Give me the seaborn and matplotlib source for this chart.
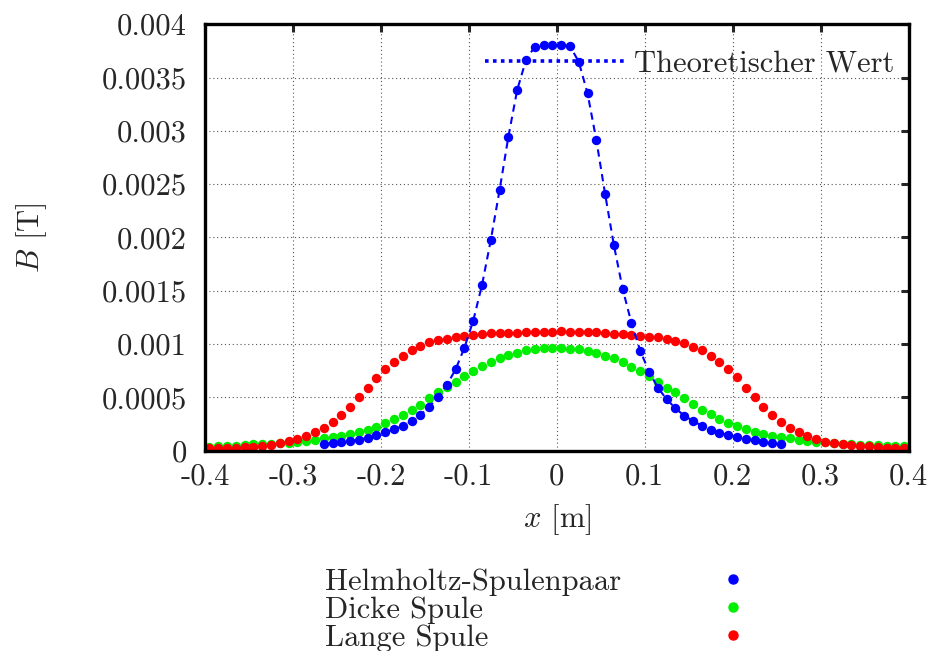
import matplotlib
matplotlib.use("Agg")
import matplotlib.pyplot as plt
from matplotlib.lines import Line2D
import pandas as pd
import seaborn as sns

# Messpositionen (m)
x_full = [-0.395, -0.385, -0.375, -0.365, -0.355, -0.345, -0.335, -0.325, -0.315, -0.305,
          -0.295, -0.285, -0.275, -0.265, -0.255, -0.245, -0.235, -0.225, -0.215, -0.205,
          -0.195, -0.185, -0.175, -0.165, -0.155, -0.145, -0.135, -0.125, -0.115, -0.105,
          -0.095, -0.085, -0.075, -0.065, -0.055, -0.045, -0.035, -0.025, -0.015, -0.005,
          0.005, 0.015, 0.025, 0.035, 0.045, 0.055, 0.065, 0.075, 0.085, 0.095,
          0.105, 0.115, 0.125, 0.135, 0.145, 0.155, 0.165, 0.175, 0.185, 0.195,
          0.205, 0.215, 0.225, 0.235, 0.245, 0.255, 0.265, 0.275, 0.285, 0.295,
          0.305, 0.315, 0.325, 0.335, 0.345, 0.355, 0.365, 0.375, 0.385, 0.395]

x_helm = [-0.265, -0.255, -0.245, -0.235, -0.225, -0.215, -0.205, -0.195, -0.185, -0.175,
          -0.165, -0.155, -0.145, -0.135, -0.125, -0.115, -0.105, -0.095, -0.085, -0.075,
          -0.065, -0.055, -0.045, -0.035, -0.025, -0.015, -0.005,
          0.005, 0.015, 0.025, 0.035, 0.045, 0.055, 0.065, 0.075, 0.085, 0.095,
          0.105, 0.115, 0.125, 0.135, 0.145, 0.155, 0.165, 0.175, 0.185, 0.195,
          0.205, 0.215, 0.225, 0.235, 0.245, 0.255]

# Magnetfeld (T)
b_helm = [0.00006, 0.000072, 0.000084, 0.000091, 0.000103, 0.000122, 0.000147, 0.000173, 0.000201, 0.000232,
          0.000279, 0.000335, 0.000413, 0.000506, 0.000616, 0.000763, 0.000966, 0.001219, 0.001554, 0.001976,
          0.002445, 0.002945, 0.003383, 0.003664, 0.00379, 0.003805, 0.003805,
          0.003805, 0.003795, 0.003648, 0.003352, 0.002914, 0.002407, 0.001926, 0.001516, 0.001195, 0.000935,
          0.000741, 0.000591, 0.000482, 0.000398, 0.000328, 0.000279, 0.000234, 0.000197, 0.000169, 0.000147,
          0.000126, 0.000107, 0.000098, 0.000084, 0.000072, 0.000066]

b_dick = [0.0000375, 0.00004, 0.000044, 0.000047, 0.000053, 0.000059, 0.000063, 0.000066, 0.00007, 0.000076,
          0.000084, 0.000094, 0.000103, 0.000116, 0.000125, 0.000141, 0.000159, 0.000178, 0.000197, 0.000225,
          0.00026, 0.000294, 0.000334, 0.000378, 0.000432, 0.000491, 0.000547, 0.000595, 0.000647, 0.0007,
          0.00075, 0.000791, 0.000835, 0.000866, 0.000897, 0.000919, 0.000941, 0.00095, 0.00096, 0.00096,
          0.00096, 0.000957, 0.00095, 0.000938, 0.000913, 0.000891, 0.000866, 0.000835, 0.000788, 0.000747,
          0.0007, 0.000647, 0.000591, 0.000547, 0.000491, 0.000441, 0.000381, 0.000341, 0.000297, 0.00026,
          0.000231, 0.000203, 0.000178, 0.000159, 0.000141, 0.000125, 0.000116, 0.0001, 0.000091, 0.000084,
          0.000078, 0.000072, 0.000066, 0.000059, 0.000056, 0.000053, 0.00005, 0.000047, 0.000046, 0.000044]

b_lang = [0.000022, 0.000022, 0.000025, 0.000028, 0.000031, 0.000038, 0.000047, 0.000053, 0.000072, 0.000091,
          0.000106, 0.000134, 0.000172, 0.000209, 0.000272, 0.000334, 0.000413, 0.0005, 0.000585, 0.000685,
          0.00077, 0.000835, 0.000891, 0.000944, 0.000985, 0.001016, 0.001038, 0.001052, 0.001066, 0.001075,
          0.001085, 0.001091, 0.0011, 0.001104, 0.001107, 0.001108, 0.00111, 0.00111, 0.001113, 0.001115,
          0.001118, 0.001116, 0.001115, 0.001113, 0.00111, 0.001104, 0.001097, 0.001091, 0.001088, 0.001079,
          0.001069, 0.001063, 0.001047, 0.001032, 0.001007, 0.000975, 0.000941, 0.000891, 0.000835, 0.000768,
          0.000688, 0.000585, 0.0005, 0.000413, 0.000334, 0.000266, 0.000216, 0.000172, 0.000138, 0.000106,
          0.000084, 0.000069, 0.000059, 0.000053, 0.000047, 0.00004, 0.000034, 0.000028, 0.000025, 0.000022]

labels = ["Helmholtz-Spulenpaar", "Dicke Spule", "Lange Spule"]
theorie_label = "Theoretischer Wert"

x_ticks = [-0.4, -0.3, -0.2, -0.1, 0.0, 0.1, 0.2, 0.3, 0.4]
x_ticklabels = ["-0.4", "-0.3", "-0.2", "-0.1", "0", "0.1", "0.2", "0.3", "0.4"]
y_ticks = [0, 0.0005, 0.001, 0.0015, 0.002, 0.0025, 0.003, 0.0035, 0.004]
y_ticklabels = ["0", "0.0005", "0.001", "0.0015", "0.002", "0.0025", "0.003", "0.0035", "0.004"]

farben = ["#0000ff", "#00ee00", "#ff0000"]

sns.set_style("white")
plt.rcParams["font.family"] = ["cmr10", "DejaVu Serif"]
plt.rcParams["mathtext.fontset"] = "cm"
plt.rcParams["axes.unicode_minus"] = False
plt.rcParams["font.size"] = 22

fig = plt.figure(figsize=(9.36, 6.51), dpi=100)
ax = fig.add_axes([205 / 936, 1 - 450.7 / 651, 703.5 / 936, 426.5 / 651])

helm = pd.DataFrame({"x": x_helm, "B": b_helm})
dick = pd.DataFrame({"x": x_full, "B": b_dick})
lang = pd.DataFrame({"x": x_full, "B": b_lang})

# Messpunkte
sns.scatterplot(data=dick, x="x", y="B", color=farben[1], s=46, linewidth=0, ax=ax, legend=False, zorder=3)
sns.scatterplot(data=lang, x="x", y="B", color=farben[2], s=46, linewidth=0, ax=ax, legend=False, zorder=4)
sns.scatterplot(data=helm, x="x", y="B", color=farben[0], s=46, linewidth=0, ax=ax, legend=False, zorder=5)
# theoretischer Verlauf
sns.lineplot(data=helm, x="x", y="B", color=farben[0], lw=1.5, ax=ax, zorder=6,
             estimator=None, linestyle=(0, (3.5, 2.5)))

ax.set_xlim(-0.4, 0.4)
ax.set_ylim(0, 0.004)
ax.set_xticks(x_ticks)
ax.set_xticklabels(x_ticklabels)
ax.set_yticks(y_ticks)
ax.set_yticklabels(y_ticklabels)
ax.grid(True, color="#555555", linestyle=(0, (1, 2.5)), linewidth=0.8)
ax.tick_params(direction="in", length=6, width=2.2, top=True, right=True, labelsize=22)
ax.tick_params(axis="y", pad=13)
ax.tick_params(axis="x", pad=9)
for sp in ax.spines.values():
    sp.set_linewidth(2.4)
    sp.set_color("black")
    sp.set_zorder(10)

ax.set_xlabel("$x$ [m]", fontsize=22, labelpad=8)
ax.set_ylabel("$B$ [T]", fontsize=22, labelpad=38)

# Legende oben rechts
h_theo = Line2D([], [], color=farben[0], lw=2.6, linestyle=(0, (1, 1.2)))
ax.legend([h_theo], [theorie_label], loc="upper right", frameon=False,
          handlelength=4.6, handletextpad=0.28, borderaxespad=0.25,
          bbox_to_anchor=(1.008, 0.985), fontsize=22)

# Legende unten (Text links, Punkt rechts)
for i, (lab, c) in enumerate(zip(labels, farben)):
    y = 1 - (579 + 28 * i) / 651
    fig.text(325 / 936, y, lab, ha="left", va="center_baseline", fontsize=22)
    fig.add_artist(Line2D([733 / 936], [y], transform=fig.transFigure, color=c,
                          marker="o", markersize=6.5, linestyle="none"))

fig.savefig("out.png", dpi=100)
